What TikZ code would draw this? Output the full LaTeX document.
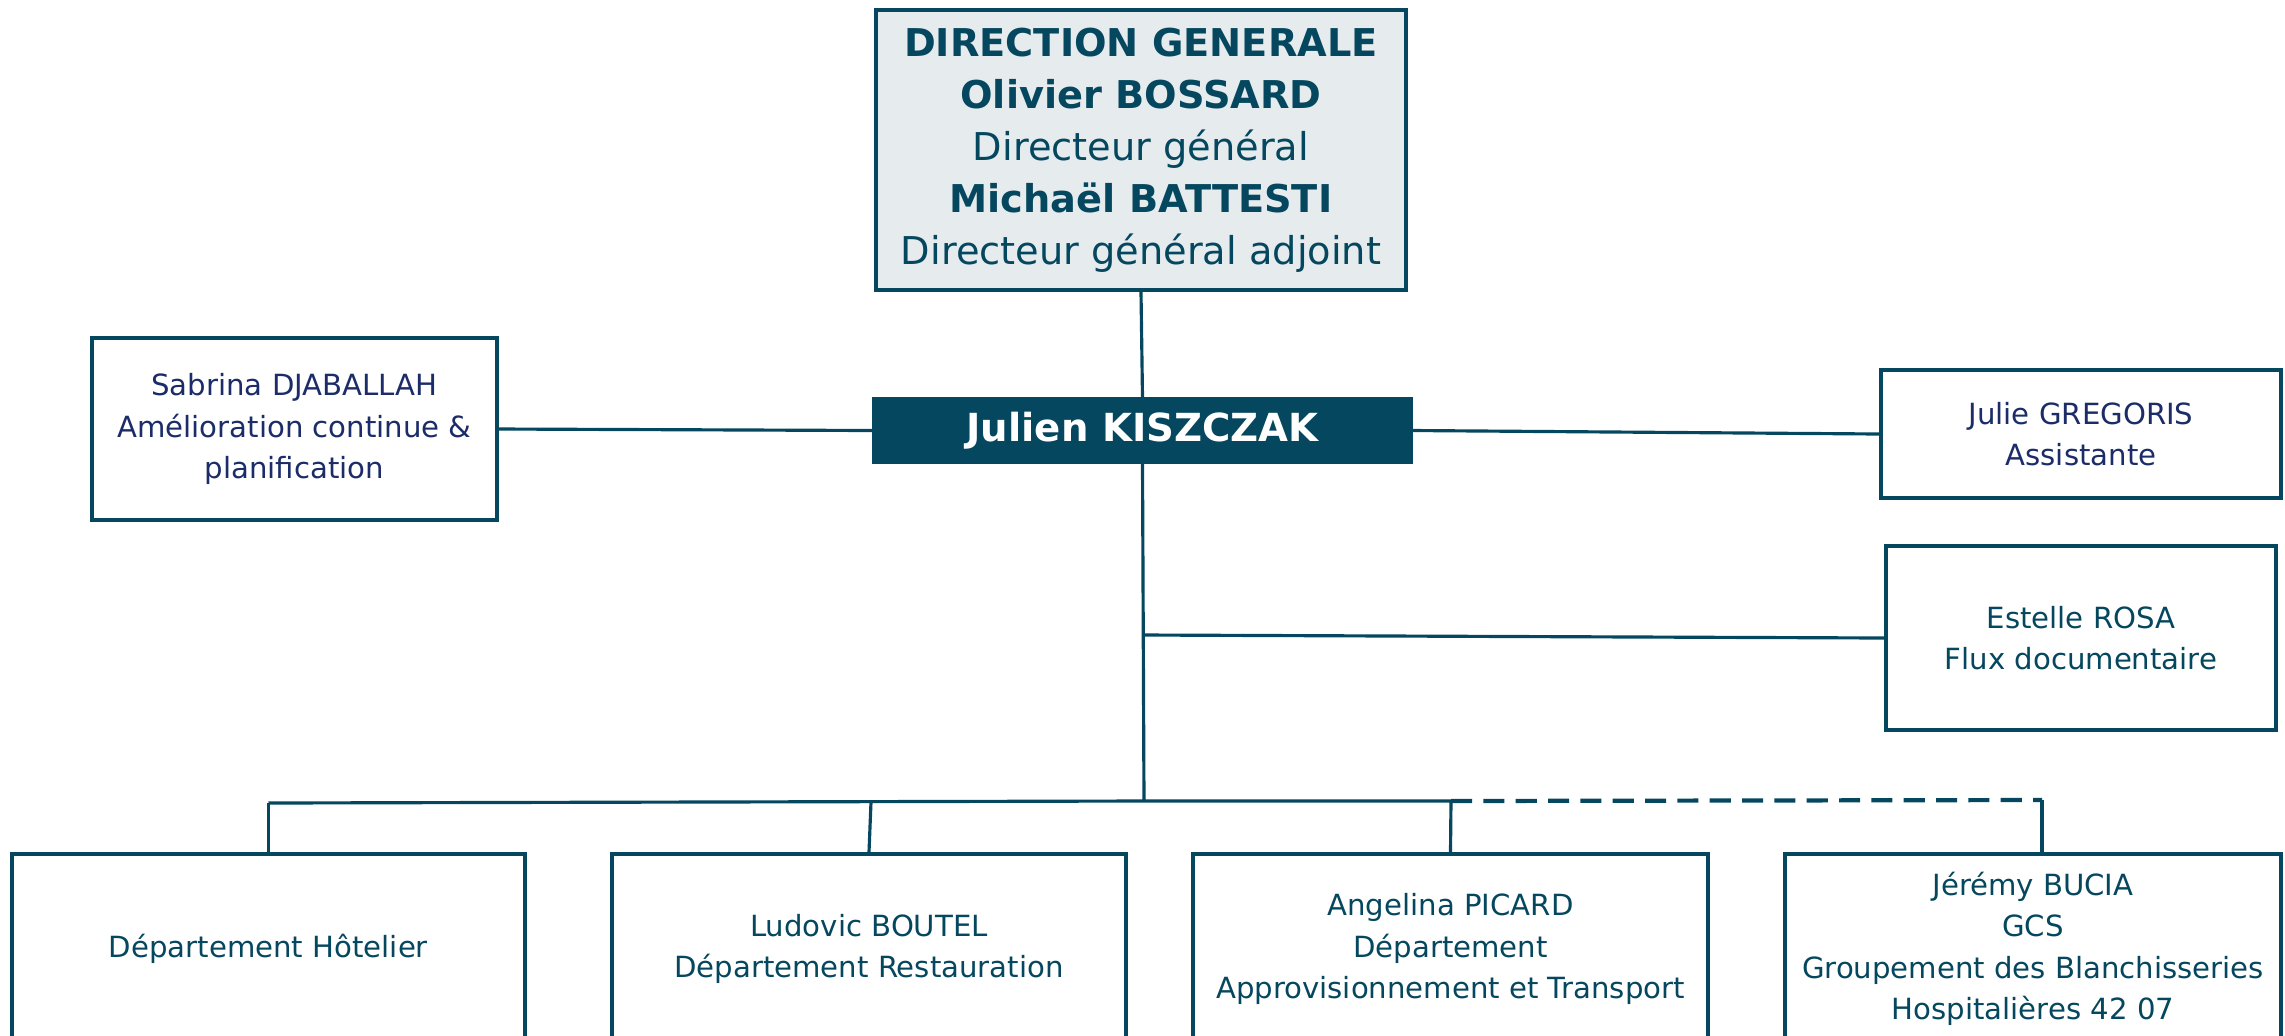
\documentclass[tikz,border=0pt]{standalone}
\usepackage{fontspec}
\setmainfont{DejaVu Sans}
\definecolor{petrole}{HTML}{05475E}
\definecolor{marine}{HTML}{1B2C68}
\definecolor{grisdg}{HTML}{E6EBEE}

\begin{document}
\begin{tikzpicture}

   % Set up styles for the chart
  \tikzset{
      box/.style={draw=petrole, line width=1pt, fill=white, align=center, text=petrole,
                  font=\fontsize{8.3}{11.8}\selectfont, inner sep=2pt},
      link/.style={draw=petrole, line width=0.9pt},
      dotlink/.style={link, line width=1.2pt, dash pattern=on 6pt off 3.2pt}
  }

  \clip (0,0) rectangle (22.85,-10.35);

  % Direction and head of department
  \node[box, fill=grisdg, minimum width=5.30cm, minimum height=2.80cm,
        font=\fontsize{10.9}{14.8}\selectfont] (dg) at (11.41,-1.50)
        {\textbf{DIRECTION GENERALE}\\ \textbf{Olivier BOSSARD}\\ Directeur général\\
         \textbf{Michaël BATTESTI}\\ Directeur général adjoint};
  \node[box, fill=petrole, text=white, minimum width=5.37cm, minimum height=0.63cm,
        font=\fontsize{11}{13}\selectfont\bfseries] (chef) at (11.425,-4.305) {Julien KISZCZAK};

  % Side boxes
  \node[box, text=marine, minimum width=4.05cm, minimum height=1.82cm] (sabrina) at (2.945,-4.29)
        {Sabrina DJABALLAH\\ Amélioration continue \&\\ planification};
  \node[box, text=marine, minimum width=4.00cm, minimum height=1.28cm] (julie) at (20.81,-4.34)
        {Julie GREGORIS\\ Assistante};
  \node[box, minimum width=3.90cm, minimum height=1.84cm] (estelle) at (20.81,-6.38)
        {Estelle ROSA\\ Flux documentaire};

  % Departments (bottom row, cut by the page edge)
  \foreach \name/\x/\w/\txt in {
      dep1/2.685/5.13/{Département Hôtelier},
      dep2/8.69/5.14/{Ludovic BOUTEL\\ Département Restauration},
      dep3/14.505/5.15/{Angelina PICARD\\ Département\\ Approvisionnement et Transport},
      dep4/20.33/4.96/{Jérémy BUCIA\\ GCS\\ Groupement des Blanchisseries\\ Hospitalières 42 07}} {
      \node[box, minimum width=\w cm, minimum height=1.90cm] (\name) at (\x,-9.49) {\txt};
  }

  % Branch points
  \coordinate (trunk) at (11.44,-8.01);
  \coordinate (fork) at (11.435,-6.35);
  \coordinate (bus1) at (2.685,-8.03);
  \coordinate (bus2) at (8.71,-8.02);
  \coordinate (bus3) at (14.51,-8.01);
  \coordinate (bus4) at (20.42,-8.00);

  % Connectors
  \draw[link] (dg.south) -- (chef.north);
  \draw[link] (sabrina.east) -- (chef.west);
  \draw[link] (chef.east) -- (julie.west);
  \draw[link] (chef.south) -- (trunk);
  \draw[link] (fork) -- (estelle.west);
  \draw[link] (bus1) -- (trunk) -- (bus3);
  \draw[dotlink] (bus3) -- (bus4);
  \draw[link] (bus1) -- (dep1.north);
  \draw[link] (bus2) -- (dep2.north);
  \draw[link] (bus3) -- (dep3.north);
  \draw[link] (bus4) -- (bus4 |- dep4.north);

\end{tikzpicture}
\end{document}
